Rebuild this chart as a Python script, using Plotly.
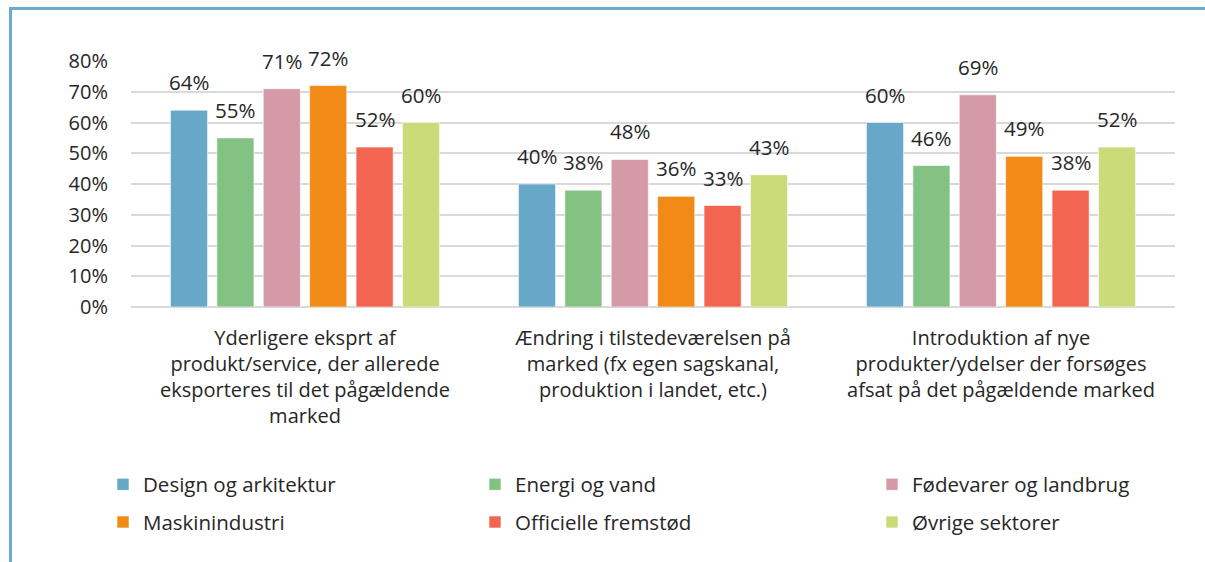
import plotly.graph_objects as go

categories = [
    "Yderligere eksprt af<br>produkt/service, der allerede<br>eksporteres til det pågældende<br>marked",
    "Ændring i tilstedeværelsen på<br>marked (fx egen sagskanal,<br>produktion i landet, etc.)",
    "Introduktion af nye<br>produkter/ydelser der forsøges<br>afsat på det pågældende marked",
]
series_names = [
    "Design og arkitektur",
    "Energi og vand",
    "Fødevarer og landbrug",
    "Maskinindustri",
    "Officielle fremstød",
    "Øvrige sektorer",
]
design = [64, 40, 60]
energi = [55, 38, 46]
foedevarer = [71, 48, 69]
maskin = [72, 36, 49]
officielle = [52, 33, 38]
oevrige = [60, 43, 52]
values = [design, energi, foedevarer, maskin, officielle, oevrige]
colors = ["#67A7C7", "#84C284", "#D49AA8", "#F18A16", "#F26651", "#CBDB77"]
legend_ids = ["legend", "legend2", "legend3", "legend", "legend2", "legend3"]
y_ticks = [0, 10, 20, 30, 40, 50, 60, 70, 80]

FONT = "Open Sans"
TXT = "#262626"
BARGAP = 0.2

fig = go.Figure()
n_series = len(series_names)
slot = (1 - BARGAP) / n_series
annotations = []
for j, (name, vals, col, lg) in enumerate(zip(series_names, values, colors, legend_ids)):
    fig.add_trace(go.Bar(
        x=categories, y=vals, name=name,
        marker=dict(color=col, line=dict(color="rgba(255,255,255,0.6)", width=1)),
        cliponaxis=False, legend=lg, legendgroup=name,
    ))
    for i, v in enumerate(vals):
        annotations.append(dict(
            x=i + (j - (n_series - 1) / 2) * slot, y=v, xref="x", yref="y",
            text=f"{v}%", showarrow=False, yanchor="bottom", yshift=12,
            font=dict(family=FONT, size=20.5, color=TXT),
        ))

W, H = 1205, 562
L, R, T, B = 131, 30, 61, 255
pw, ph = W - L - R, H - T - B

def px(x):
    return (x - L) / pw

def py(y):
    return (H - B - y) / ph

leg_common = dict(font=dict(family=FONT, size=20.5, color=TXT), bgcolor="rgba(0,0,0,0)",
                  orientation="v", yanchor="top", xanchor="left", tracegroupgap=8,
                  itemclick=False)
fig.update_layout(
    width=W, height=H,
    margin=dict(l=L, r=R, t=T, b=B),
    paper_bgcolor="white", plot_bgcolor="white",
    barmode="group", bargap=BARGAP, bargroupgap=0.2,
    font=dict(family=FONT, size=20, color=TXT),
    showlegend=True,
    annotations=annotations,
    legend=dict(x=px(103), y=py(464.5), **leg_common),
    legend2=dict(x=px(475), y=py(464.5), **leg_common),
    legend3=dict(x=px(872), y=py(464.5), **leg_common),
    xaxis=dict(showgrid=False, showline=False, ticks="", ticklabelstandoff=17,
               tickfont=dict(family=FONT, size=20, color=TXT)),
    yaxis=dict(range=[0, 80], tickvals=y_ticks, ticktext=[f"{v}%" for v in y_ticks],
               showgrid=True, gridcolor="#D9D9D9", gridwidth=1.5,
               zeroline=True, zerolinecolor="#D9D9D9", zerolinewidth=1.5,
               showline=False, ticks="", ticklabelstandoff=22,
               tickfont=dict(family=FONT, size=20, color=TXT)),
    shapes=[
        dict(type="line", xref="paper", yref="paper", x0=px(10.5), x1=px(10.5),
             y0=py(8.5), y1=py(570), line=dict(color="#6AAACF", width=3)),
        dict(type="line", xref="paper", yref="paper", x0=px(9), x1=px(1210),
             y0=py(8.5), y1=py(8.5), line=dict(color="#6AAACF", width=3)),
    ],
)
fig.write_html(
    "out.html",
    config={"displayModeBar": False},
    post_script="document.body.style.margin='0';document.body.style.overflow='hidden';",
)
